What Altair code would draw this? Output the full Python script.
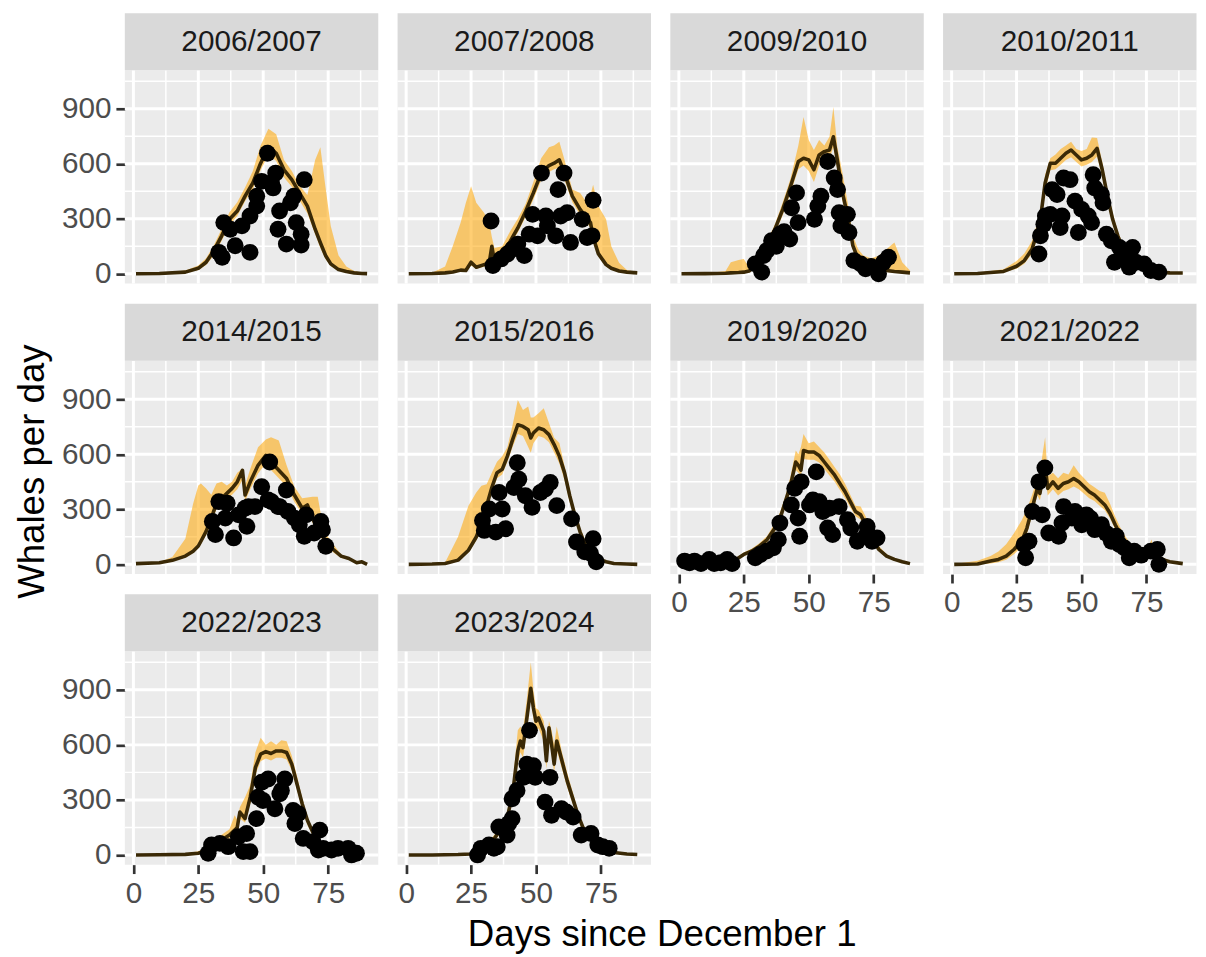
import altair as alt
import pandas as pd

FONT = "Liberation Sans"

seasons = ["2006/2007", "2007/2008", "2009/2010", "2010/2011", "2014/2015",
           "2015/2016", "2019/2020", "2021/2022", "2022/2023", "2023/2024"]

# ---------------- 2006/2007 ----------------
d0607 = [1, 10, 20, 25, 28, 31, 34, 37, 40, 43, 46, 49, 52, 55, 58, 61, 64, 67, 70, 72, 74, 76, 79, 82, 85, 88, 90]
m0607 = [0, 2, 9, 30, 63, 126, 207, 297, 342, 423, 495, 603, 693, 657, 567, 513, 441, 369, 243, 170, 100, 54, 23, 12, 5, 2, 1]
hi0607 = [1, 4, 18, 45, 85, 155, 245, 335, 390, 470, 560, 700, 790, 760, 620, 560, 480, 430, 620, 690, 470, 260, 100, 40, 15, 5, 2]
lo0607 = [0, 1, 5, 20, 48, 100, 180, 265, 315, 395, 460, 565, 650, 615, 525, 475, 400, 330, 215, 140, 80, 42, 17, 8, 3, 1, 0]
od0607 = [32.9, 34.2, 34.8, 37.3, 39.2, 41.8, 44.9, 44.9, 47.5, 47.5, 49.4, 51.6, 53.2, 53.8, 54.8, 55.7, 56.3, 58.9, 60.5, 61.8, 62.7, 64.6, 64.6, 65.8]
on0607 = [117, 90, 279, 243, 153, 261, 117, 315, 369, 423, 504, 657, 495, 468, 549, 243, 342, 162, 387, 423, 279, 216, 157, 513]

# ---------------- 2007/2008 ----------------
d0708 = [1, 10, 15, 18, 21, 23, 25, 27, 30, 32, 33, 34, 37, 40, 43, 46, 49, 52, 55, 57, 59, 61, 64, 67, 69, 71, 72, 74, 77, 79, 82, 85, 89]
m0708 = [0, 2, 5, 10, 20, 18, 63, 36, 50, 60, 150, 70, 115, 175, 250, 340, 441, 549, 590, 603, 621, 549, 423, 351, 315, 279, 200, 110, 50, 30, 15, 9, 5]
hi0708 = [1, 5, 40, 153, 280, 387, 477, 387, 333, 279, 200, 140, 150, 230, 300, 380, 500, 630, 690, 700, 720, 620, 460, 440, 400, 430, 486, 369, 297, 150, 60, 20, 8]
lo0708 = [0, 1, 3, 6, 12, 12, 45, 28, 38, 45, 120, 58, 100, 155, 225, 310, 405, 510, 555, 570, 580, 510, 390, 320, 290, 250, 175, 95, 40, 22, 10, 5, 3]
od0708 = [32.7, 33.4, 36.6, 39.0, 41.0, 43.0, 45.5, 47.4, 48.7, 50.6, 52.1, 53.8, 54.4, 57.6, 58.5, 59.5, 60.8, 62.0, 63.3, 67.8, 69.7, 71.6, 72.0]
on0708 = [288, 45, 81, 108, 135, 162, 99, 216, 324, 207, 549, 315, 261, 207, 459, 315, 549, 333, 171, 297, 198, 207, 401]

# ---------------- 2009/2010 ----------------
d0910 = [1, 10, 18, 20, 23, 25, 27, 28, 31, 34, 37, 40, 43, 46, 48, 50, 52, 54, 56, 58, 59.5, 61, 63, 65, 67, 69, 71, 74, 77, 80, 83, 86, 89]
m0910 = [0, 1, 3, 5, 7, 9, 15, 27, 81, 162, 243, 351, 477, 612, 630, 621, 567, 648, 666, 675, 747, 621, 441, 315, 153, 81, 45, 31, 23, 18, 13, 9, 5]
hi0910 = [1, 2, 15, 63, 75, 81, 36, 40, 100, 180, 270, 390, 520, 700, 855, 729, 675, 729, 700, 747, 909, 693, 549, 387, 207, 135, 100, 85, 99, 135, 171, 63, 18]
lo0910 = [0, 0, 2, 3, 5, 6, 10, 20, 65, 140, 220, 320, 440, 570, 590, 560, 500, 590, 620, 630, 690, 570, 400, 280, 130, 65, 35, 22, 15, 10, 7, 5, 3]
od0910 = [29.4, 31.9, 32.6, 33.8, 35.7, 37.5, 38.9, 40.5, 42.7, 43.4, 45.3, 45.9, 52.2, 53.5, 54.7, 57.3, 59.8, 61.1, 61.7, 62.4, 64.9, 65.5, 67.4, 70.0, 71.9, 74.0, 76.9, 78.8, 80.7]
on0910 = [54, 9, 99, 126, 180, 150, 216, 230, 189, 360, 441, 279, 297, 369, 423, 612, 522, 459, 333, 261, 324, 225, 72, 54, 27, 40, 0, 63, 90]

# ---------------- 2010/2011 ----------------
d1011 = [1, 10, 20, 25, 28, 31, 34, 36, 38, 40, 42, 44, 46, 48, 50, 52, 54, 56, 58, 60, 62, 64, 66, 68, 71, 74, 77, 80, 84, 89]
m1011 = [0, 2, 13, 41, 72, 135, 279, 495, 603, 603, 630, 657, 675, 648, 621, 630, 648, 684, 567, 423, 297, 207, 135, 81, 45, 27, 14, 9, 5, 4]
hi1011 = [1, 5, 25, 70, 110, 180, 330, 540, 630, 650, 680, 700, 720, 680, 670, 680, 743, 740, 610, 460, 330, 230, 160, 100, 60, 35, 20, 12, 7, 4]
lo1011 = [0, 1, 8, 28, 55, 110, 245, 450, 565, 570, 595, 620, 635, 610, 585, 595, 610, 640, 530, 390, 270, 185, 118, 68, 36, 20, 10, 6, 3, 2]
od1011 = [33.6, 34.2, 35.5, 36.1, 38.0, 38.7, 40.6, 41.8, 42.5, 43.1, 45.6, 47.5, 48.8, 50.1, 52.6, 53.9, 54.5, 55.1, 57.7, 58.3, 59.6, 61.5, 62.7, 64.6, 66.5, 68.4, 69.7, 71.0, 74.1, 76.7, 79.8]
on1011 = [108, 207, 270, 315, 324, 459, 432, 252, 315, 522, 513, 396, 225, 351, 315, 279, 540, 468, 432, 387, 216, 180, 63, 144, 99, 36, 144, 63, 54, 18, 9]

# ---------------- 2014/2015 ----------------
d1415 = [1, 10, 15, 20, 23, 25, 26, 28, 30, 32, 34, 36, 38, 40, 42, 43, 45, 48, 51, 53, 56, 59, 62, 65, 67, 69, 71, 72, 74, 77, 80, 83, 86, 88, 90]
m1415 = [4, 9, 22, 45, 72, 100, 126, 180, 252, 333, 360, 387, 414, 450, 513, 378, 450, 540, 594, 558, 513, 468, 378, 306, 324, 252, 198, 175, 126, 81, 45, 32, 9, 14, 0]
hi1415 = [5, 12, 40, 140, 330, 430, 441, 414, 380, 441, 450, 430, 450, 500, 522, 430, 520, 639, 680, 693, 675, 540, 423, 360, 365, 369, 369, 288, 170, 108, 54, 38, 15, 16, 2]
lo1415 = [3, 7, 18, 38, 62, 88, 110, 160, 230, 300, 330, 355, 380, 410, 460, 345, 410, 495, 550, 515, 470, 425, 340, 275, 290, 225, 175, 150, 105, 65, 35, 25, 6, 10, 0]
od1415 = [30.4, 31.6, 32.9, 35.4, 36.1, 38.6, 40.5, 43.0, 43.7, 44.3, 46.8, 49.4, 51.9, 52.5, 53.2, 55.7, 56.3, 58.9, 59.5, 62.0, 63.9, 65.8, 66.5, 69.6, 72.2, 72.8, 74.1]
on1415 = [234, 162, 342, 252, 333, 144, 270, 306, 207, 315, 315, 423, 351, 558, 342, 315, 315, 405, 288, 252, 216, 153, 270, 171, 234, 189, 99]

# ---------------- 2015/2016 ----------------
d1516 = [1, 10, 15, 20, 24, 27, 29, 31, 33, 35, 37, 39, 41, 43, 45, 47, 48, 49, 51, 53, 55, 57, 59, 61, 63, 65, 67, 69, 71, 74, 77, 80, 85, 89]
m1516 = [0, 2, 5, 23, 77, 149, 221, 320, 419, 500, 518, 590, 680, 761, 752, 734, 689, 716, 743, 734, 707, 653, 590, 500, 374, 266, 176, 104, 59, 29, 14, 5, 2, 0]
hi1516 = [1, 4, 10, 150, 320, 392, 428, 437, 500, 560, 590, 640, 760, 896, 842, 860, 800, 800, 824, 851, 770, 690, 662, 536, 410, 284, 200, 130, 75, 40, 20, 8, 3, 1]
lo1516 = [0, 1, 3, 18, 65, 130, 200, 295, 390, 470, 490, 560, 640, 710, 700, 640, 608, 660, 700, 690, 665, 610, 550, 460, 340, 240, 155, 90, 50, 23, 10, 3, 1, 0]
od1516 = [29.4, 30.1, 32.0, 34.5, 35.8, 37.0, 38.3, 41.5, 42.8, 43.4, 45.9, 48.5, 51.7, 53.6, 55.5, 58.0, 63.7, 65.6, 68.8, 71.0, 72.0, 73.2]
on1516 = [239, 185, 302, 176, 392, 302, 194, 419, 554, 464, 374, 311, 392, 410, 446, 320, 248, 122, 68, 60, 140, 14]

# ---------------- 2019/2020 ----------------
d1920 = [1, 10, 20, 22, 25, 28, 31, 34, 37, 39, 41, 43, 45, 46, 47, 48, 50, 52, 54, 56, 58, 60, 62, 64, 66, 68, 70, 72, 74, 77, 80, 83, 86, 89]
m1920 = [0, 2, 5, 27, 54, 72, 99, 135, 198, 252, 342, 432, 558, 540, 513, 621, 612, 612, 594, 558, 522, 486, 441, 396, 342, 288, 270, 216, 153, 81, 45, 27, 14, 4]
hi1920 = [1, 3, 8, 35, 65, 85, 115, 155, 225, 285, 370, 480, 621, 600, 640, 711, 660, 670, 640, 610, 570, 530, 490, 440, 380, 320, 315, 260, 180, 100, 55, 32, 17, 5]
lo1920 = [0, 1, 3, 20, 45, 62, 88, 120, 180, 230, 315, 400, 515, 500, 480, 575, 570, 570, 555, 520, 485, 450, 405, 360, 310, 262, 245, 195, 135, 70, 38, 22, 11, 3]
od1920 = [2.2, 4.1, 6.0, 8.5, 11.7, 13.6, 16.1, 18.6, 20.5, 29.4, 31.3, 33.8, 36.4, 38.3, 38.9, 43.3, 44.6, 45.9, 46.5, 47.1, 50.3, 51.6, 52.9, 54.1, 55.4, 57.3, 58.0, 59.2, 61.7, 64.9, 66.2, 68.7, 71.9, 72.5, 74.4, 76.3]
on1920 = [18, 9, 18, 4, 27, 4, 9, 27, 4, 36, 54, 72, 90, 135, 225, 324, 414, 252, 153, 450, 324, 351, 504, 342, 288, 198, 306, 162, 315, 243, 198, 126, 153, 207, 126, 144]

# ---------------- 2021/2022 ----------------
d2122 = [1, 10, 15, 18, 21, 24, 27, 29, 31, 33, 34, 35, 36, 37, 39, 41, 43, 45, 47, 49, 51, 53, 55, 57, 59, 61, 63, 65, 67, 69, 72, 75, 77, 78, 81, 84, 89]
m2122 = [0, 2, 18, 27, 45, 81, 126, 198, 306, 414, 387, 468, 540, 414, 450, 414, 441, 450, 468, 450, 423, 396, 378, 351, 324, 279, 216, 162, 117, 81, 54, 45, 50, 36, 27, 14, 4]
hi2122 = [2, 20, 45, 70, 110, 170, 240, 300, 380, 470, 500, 600, 693, 480, 500, 470, 500, 490, 540, 500, 470, 440, 420, 400, 390, 330, 260, 200, 150, 110, 75, 70, 135, 70, 40, 20, 5]
lo2122 = [0, 0, 5, 12, 25, 55, 95, 165, 270, 375, 350, 425, 490, 375, 410, 375, 400, 410, 425, 410, 385, 360, 345, 320, 295, 250, 190, 140, 100, 68, 44, 36, 38, 28, 20, 10, 3]
od2122 = [27.9, 28.5, 29.8, 31.1, 33.6, 34.9, 35.9, 37.4, 41.2, 42.5, 43.1, 46.3, 47.5, 50.1, 51.9, 53.5, 55.1, 57.7, 59.5, 61.5, 63.4, 64.6, 66.5, 68.4, 70.3, 73.0, 76.7, 79.2, 79.8]
on2122 = [108, 36, 126, 288, 450, 270, 526, 171, 153, 225, 315, 252, 288, 216, 270, 250, 189, 216, 170, 126, 153, 108, 90, 36, 72, 50, 72, 81, 0]

# ---------------- 2022/2023 ----------------
d2223 = [1, 10, 20, 25, 28, 31, 34, 37, 39, 40, 41, 43, 45, 47, 49, 51, 53, 55, 57, 59, 61, 63, 65, 67, 69, 71, 73, 76, 80, 84, 88]
m2223 = [0, 1, 3, 9, 23, 54, 81, 108, 135, 150, 234, 198, 315, 477, 549, 563, 553, 567, 567, 558, 495, 387, 279, 189, 126, 81, 54, 27, 13, 5, 2]
hi2223 = [0, 2, 8, 20, 40, 80, 110, 140, 216, 190, 260, 315, 380, 560, 639, 600, 620, 600, 625, 620, 540, 430, 310, 210, 140, 95, 60, 30, 15, 6, 2]
lo2223 = [0, 0, 1, 5, 15, 40, 65, 90, 115, 130, 200, 175, 280, 440, 510, 525, 515, 530, 530, 520, 460, 355, 250, 165, 108, 68, 45, 21, 9, 3, 1]
od2223 = [28.8, 30.1, 33.3, 36.5, 40.4, 42.3, 43.6, 44.9, 47.4, 48.0, 49.4, 49.9, 51.9, 54.5, 56.4, 57.0, 58.3, 61.5, 62.2, 63.5, 65.4, 69.2, 71.2, 71.8, 73.1, 76.3, 78.8, 82.7, 84.0, 85.9]
on2223 = [9, 54, 63, 45, 99, 18, 117, 18, 198, 315, 396, 297, 414, 252, 333, 351, 414, 243, 171, 225, 90, 72, 27, 135, 36, 27, 36, 36, 0, 9]

# ---------------- 2023/2024 ----------------
d2324 = [1, 10, 20, 25, 28, 31, 34, 37, 39, 41, 43, 44, 45, 46.5, 48, 49, 50, 51, 53, 54, 55, 56, 57, 58, 60, 62, 64, 66, 68, 70, 73, 76, 80, 85, 89]
m2324 = [0, 0, 2, 5, 18, 45, 90, 153, 207, 333, 567, 621, 585, 747, 909, 801, 729, 747, 675, 513, 693, 603, 495, 621, 513, 405, 315, 225, 153, 108, 63, 31, 13, 5, 2]
hi2324 = [0, 1, 4, 10, 25, 60, 110, 180, 240, 380, 680, 700, 680, 850, 1050, 900, 800, 790, 730, 580, 730, 680, 600, 700, 560, 450, 350, 250, 170, 120, 75, 40, 18, 8, 3]
lo2324 = [0, 0, 1, 3, 12, 35, 75, 130, 180, 290, 500, 560, 530, 680, 860, 740, 670, 690, 620, 470, 640, 550, 450, 570, 470, 370, 285, 200, 135, 95, 52, 25, 10, 3, 1]
od2324 = [27.5, 28.8, 31.9, 33.8, 35.1, 35.7, 38.9, 39.5, 40.8, 40.8, 42.7, 45.2, 46.5, 47.5, 49.0, 49.7, 53.5, 55.4, 56.0, 59.8, 61.7, 64.3, 67.4, 71.2, 73.8, 75.7, 78.2]
on2324 = [0, 36, 54, 36, 45, 153, 108, 171, 198, 306, 351, 423, 495, 679, 486, 423, 288, 423, 216, 252, 234, 207, 108, 117, 54, 45, 36]

# axis breaks
x_major = [0, 25, 50, 75]
x_minor = [12.5, 37.5, 62.5, 87.5]
y_major = [0, 300, 600, 900]
y_minor = [150, 450, 750, 1050]

x_title = "Days since December 1"
y_title = "Whales per day"

series = {
    "2006/2007": (d0607, m0607, lo0607, hi0607, od0607, on0607),
    "2007/2008": (d0708, m0708, lo0708, hi0708, od0708, on0708),
    "2009/2010": (d0910, m0910, lo0910, hi0910, od0910, on0910),
    "2010/2011": (d1011, m1011, lo1011, hi1011, od1011, on1011),
    "2014/2015": (d1415, m1415, lo1415, hi1415, od1415, on1415),
    "2015/2016": (d1516, m1516, lo1516, hi1516, od1516, on1516),
    "2019/2020": (d1920, m1920, lo1920, hi1920, od1920, on1920),
    "2021/2022": (d2122, m2122, lo2122, hi2122, od2122, on2122),
    "2022/2023": (d2223, m2223, lo2223, hi2223, od2223, on2223),
    "2023/2024": (d2324, m2324, lo2324, hi2324, od2324, on2324),
}

W, H = 256, 215.5
STRIP = 57.6
XS = alt.Scale(domain=[-3.3, 94.3], nice=False, zero=False)
YS = alt.Scale(domain=[-53, 1110], nice=False, zero=False)
NCOL = 4
n = len(seasons)


def make_xaxis(show):
    if not show:
        return None
    return alt.Axis(values=x_major, grid=False, domain=False, ticks=True,
                    tickSize=9, tickWidth=2.7, tickColor="#333333",
                    labelFont=FONT, labelFontSize=30, labelColor="#4D4D4D",
                    labelPadding=5, title=None)


def make_yaxis(show):
    if not show:
        return None
    return alt.Axis(values=y_major, grid=False, domain=False, ticks=True,
                    tickSize=9, tickWidth=2.7, tickColor="#333333",
                    labelFont=FONT, labelFontSize=30, labelColor="#4D4D4D",
                    labelPadding=5, title=None)


panels = []
for i, s in enumerate(seasons):
    days, mean, lo, hi, od, on = series[s]
    col = i % NCOL
    show_y = col == 0
    show_x = (i + NCOL) >= n
    xa = make_xaxis(show_x)
    ya = make_yaxis(show_y)

    line_df = pd.DataFrame({"day": days, "mean": mean, "lo": lo, "hi": hi})
    obs_df = pd.DataFrame({"day": od, "n": on})

    xminor = alt.Chart(pd.DataFrame({"v": x_minor})).mark_rule(
        color="white", strokeWidth=1.5).encode(x=alt.X("v:Q", scale=XS, axis=xa))
    yminor = alt.Chart(pd.DataFrame({"v": y_minor})).mark_rule(
        color="white", strokeWidth=1.5).encode(y=alt.Y("v:Q", scale=YS, axis=ya))
    xmajor = alt.Chart(pd.DataFrame({"v": x_major})).mark_rule(
        color="white", strokeWidth=3).encode(x=alt.X("v:Q", scale=XS, axis=xa))
    ymajor = alt.Chart(pd.DataFrame({"v": y_major})).mark_rule(
        color="white", strokeWidth=3).encode(y=alt.Y("v:Q", scale=YS, axis=ya))

    band = alt.Chart(line_df).mark_area(color="#FFA500", opacity=0.55).encode(
        x=alt.X("day:Q", scale=XS, axis=xa),
        y=alt.Y("lo:Q", scale=YS, axis=ya),
        y2="hi:Q")
    line = alt.Chart(line_df).mark_line(color="#3a2906", strokeWidth=3.6,
                                        strokeJoin="round").encode(
        x=alt.X("day:Q", scale=XS, axis=xa),
        y=alt.Y("mean:Q", scale=YS, axis=ya))
    pts = alt.Chart(obs_df).mark_circle(color="black", size=290, opacity=1).encode(
        x=alt.X("day:Q", scale=XS, axis=xa),
        y=alt.Y("n:Q", scale=YS, axis=ya))

    lab_df = pd.DataFrame({"season": [s]})
    strip = alt.Chart(lab_df).mark_rect(color="#D9D9D9").encode(
        x=alt.value(0), x2=alt.value(W), y=alt.value(-STRIP), y2=alt.value(0))
    strip_txt = alt.Chart(lab_df).mark_text(
        font=FONT, fontSize=30, color="#1A1A1A", align="center", baseline="middle"
    ).encode(x=alt.value(W / 2), y=alt.value(-STRIP / 2), text="season:N")

    layers = [xminor, yminor, xmajor, ymajor, band, line, pts, strip, strip_txt]

    if s == "2014/2015":
        layers.append(alt.Chart(pd.DataFrame({"t": [y_title]})).mark_text(
            font=FONT, fontSize=37, color="black", angle=270,
            align="center", baseline="middle"
        ).encode(x=alt.value(-93), y=alt.value(112), text="t:N"))
    if s == "2023/2024":
        layers.append(alt.Chart(pd.DataFrame({"t": [x_title]})).mark_text(
            font=FONT, fontSize=37, color="black",
            align="center", baseline="middle"
        ).encode(x=alt.value(267.3), y=alt.value(286.4), text="t:N"))

    panels.append(alt.layer(*layers).properties(width=W, height=H))

chart = alt.concat(*panels, columns=NCOL, spacing={"row": 77.5, "column": 19.5},
                   bounds="flush").properties(
    padding={"left": 6, "top": 0, "right": 0, "bottom": 0}
).configure_view(fill="#EBEBEB", strokeWidth=0)

chart.save("out.html", embed_options={"renderer": "svg", "actions": False})
